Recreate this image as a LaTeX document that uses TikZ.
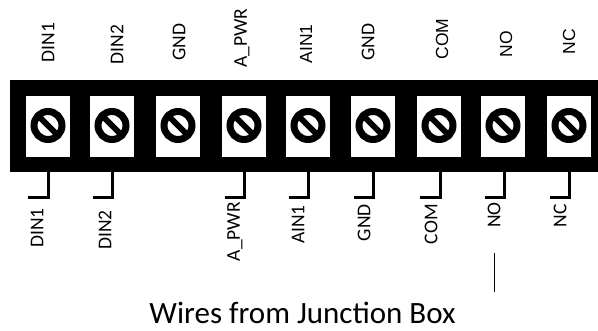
\documentclass[tikz,border=0pt]{standalone}
\usepackage{fontspec}
\setmainfont{Carlito}
\newfontfamily\arialf{Liberation Sans}
\usetikzlibrary{calc}
\tikzset{
 window/.style={fill=white,draw=none,minimum width=44pt,minimum height=61pt,inner sep=0pt},
 wire/.style={draw=black,line width=3pt},
 toplab/.style={rotate=90,anchor=center,inner sep=0pt,font=\fontsize{19.5}{19.5}\selectfont},
 toplabb/.style={rotate=90,anchor=center,inner sep=0pt,font=\arialf\fontsize{17.5}{17.5}\selectfont},
 botlab/.style={rotate=90,anchor=east,inner sep=0pt,font=\fontsize{19.5}{19.5}\selectfont},
}
\newcommand{\screwdraw}[1]{%
 \draw[black,line width=7pt] (#1) circle (14pt);
 \draw[black,line width=6pt] ($(#1)+(-12,-12)$) -- ($(#1)+(12,12)$);
}
\begin{document}
\begin{tikzpicture}[x=1pt,y=-1pt]
\useasboundingbox (0,0) rectangle (598,331);
\fill[white] (0,0) rectangle (598,331);
\node[fill=black,minimum width=588pt,minimum height=92pt,inner sep=0pt,anchor=north west] (band) at (10,80) {};
\foreach \n/\x in {a/48,b/112,c/178,d/244,e/308,f/373,g/439,h/503,i/569}{
 \node[window] (w\n) at (\x,126.5) {};
 \coordinate (s\n) at (\x,125.5);
 \screwdraw{s\n}
}
\node[toplab] (t1) at (48,42.5) {DIN1};
\node[toplab] (t2) at (117,44.5) {DIN2};
\node[toplab] (t3) at (179,42) {GND};
\node[toplab] (t4) at (242,38) {A\_PWR};
\node[toplabb] (t5) at (306,44) {AIN1};
\node[toplab] (t6) at (368,42) {GND};
\node[toplabb] (t7) at (442,39) {COM};
\node[toplabb] (t8) at (506,44) {NO};
\node[toplabb] (t9) at (569,41.5) {NC};
\foreach \n/\x/\xl/\tx/\ty/\lab in {a/48/28/37/208/DIN1,b/112/93/105/210/DIN2,d/244/225/235/202/A\_PWR,e/308/289/298/205/AIN1,f/373/354/364/204/GND,g/440/420/431/204/COM,h/504/485/494/202/NO,i/569/550/560/204/NC}{
 \coordinate (top\n) at (\x,172);
 \coordinate (c\n) at (\x,197.5);
 \coordinate (e\n) at (\xl,197.5);
 \draw[wire,line join=miter] (top\n) -- (c\n) -- (e\n);
 \node[botlab] (l\n) at (\tx,\ty) {\lab};
}
\coordinate (v1) at (494,253.5);
\coordinate (v2) at (494,292);
\draw[black,line width=1pt] (v1) -- (v2);
\node[inner sep=0pt,font=\fontsize{31}{31}\selectfont] (cap) at (302.5,313) {Wires from Junction Box};
\end{tikzpicture}
\end{document}
